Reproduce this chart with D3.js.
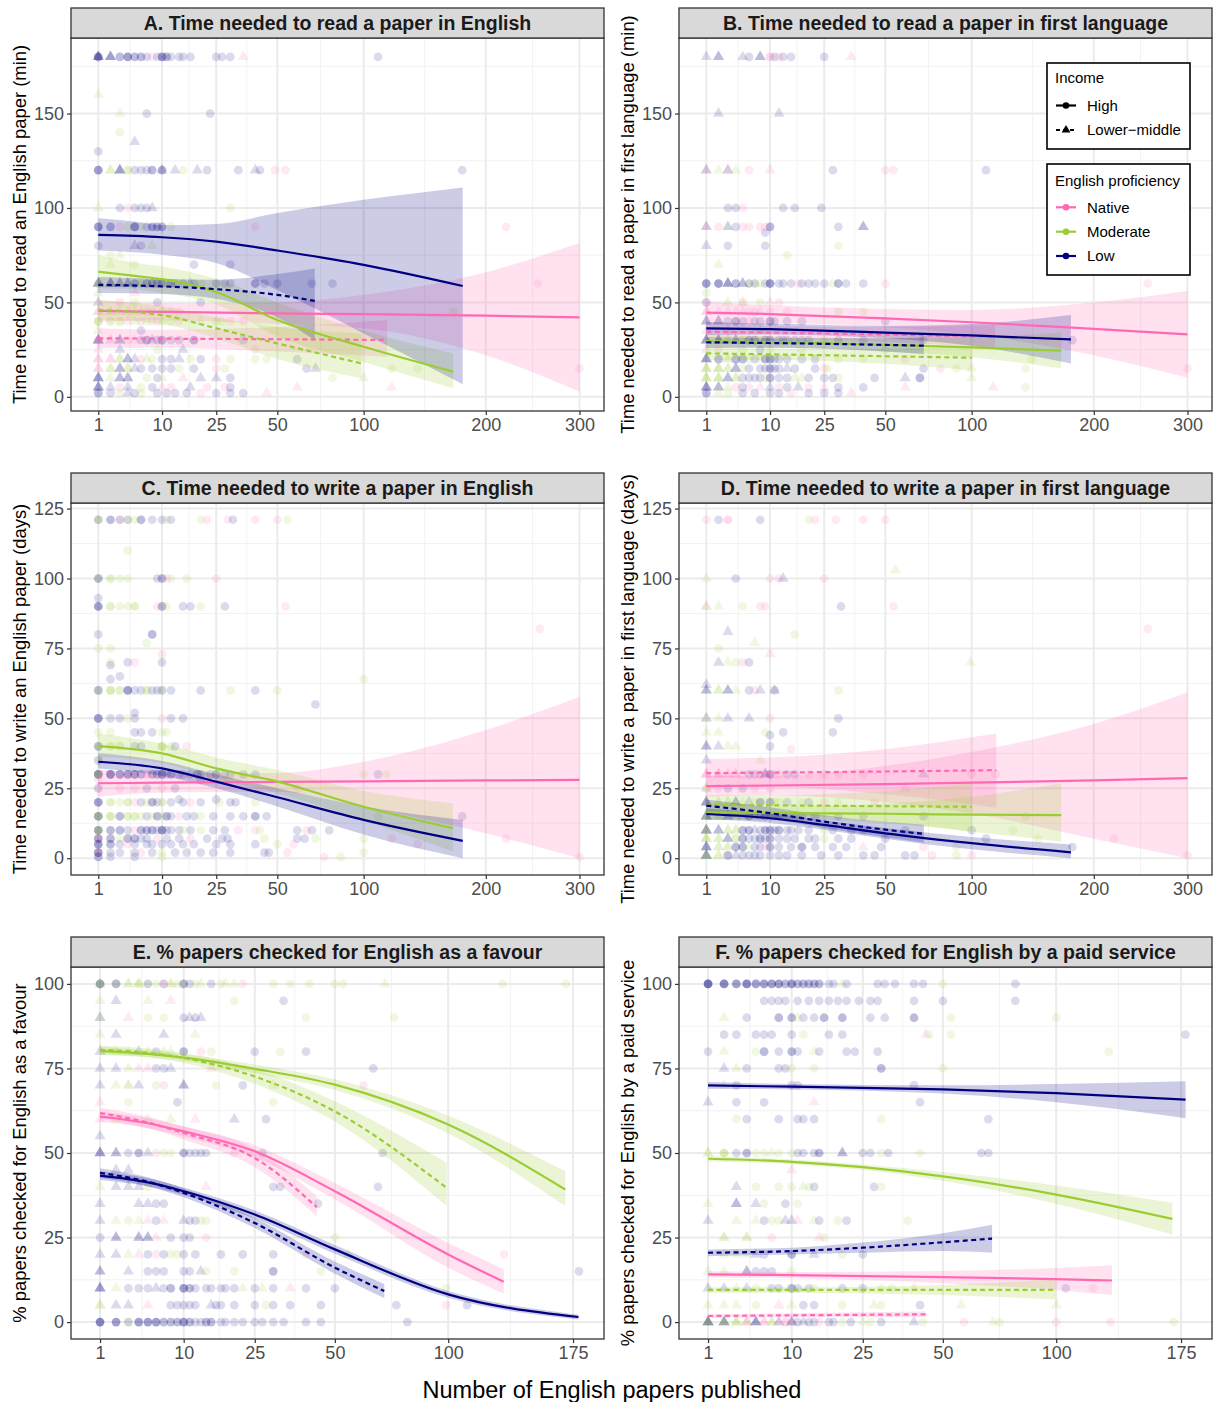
<!DOCTYPE html>
<html>
<head>
<meta charset="utf-8">
<script src="https://cdn.jsdelivr.net/npm/d3@7"></script>
<style>
  body { margin: 0; background: #fff; }
  svg text { font-family: "Liberation Sans", Arial, sans-serif; }
</style>
</head>
<body>
<svg id="chart" width="1213" height="1402"></svg>
<script>
// ---------- data ----------
const titles = [
  "A. Time needed to read a paper in English",
  "B. Time needed to read a paper in first language",
  "C. Time needed to write a paper in English",
  "D. Time needed to write a paper in first language",
  "E. % papers checked for English as a favour",
  "F. % papers checked for English by a paid service"
];
const yLabels = [
  "Time needed to read an English paper (min)",
  "Time needed to read a paper in first language (min)",
  "Time needed to write an English paper (days)",
  "Time needed to write a paper in first language (days)",
  "% papers checked for English as a favour",
  "% papers checked for English by a paid service"
];
const xLabel = "Number of English papers published";
const xTicksTop = [1, 10, 25, 50, 100, 200, 300];
const xTicksBottom = [1, 10, 25, 50, 100, 175];
const yTicksRead = [0, 50, 100, 150];
const yTicksWrite = [0, 25, 50, 75, 100, 125];
const yTicksPct = [0, 25, 50, 75, 100];
const profNames = {N: "Native", M: "Moderate", L: "Low"};
const incomeNames = {H: "High", L: "Lower\u2212middle"};

// points: [y, [[x, proficiency+income, count], ...]]
const pointsA = [
  [180, [[1,"LH",3],[1,"LL",3],[2,"LL",3],[3,"LH",2],[4,"LH",3],[5,"LH",2],[6,"LH",2],[7,"LH",1],[8,"NH",1],[9,"LH",1],[10,"LH",3],[11,"LH",2],[12,"LH",1],[14,"LH",1],[15,"LH",1],[17,"LH",1],[25,"LH",1],[27,"LH",1],[30,"LH",1],[35,"NL",1],[110,"LH",1]]],
  [160, [[1,"ML",1]]],
  [150, [[3,"ML",1],[7,"LH",1],[23,"LH",1]]],
  [140, [[3,"MH",1]]],
  [135, [[5,"LL",1]]],
  [130, [[1,"LH",1]]],
  [120, [[1,"LH",3],[2,"ML",2],[3,"LL",3],[4,"MH",2],[5,"LH",1],[6,"LH",1],[7,"LH",1],[8,"LH",2],[10,"LL",1],[10,"LH",2],[13,"LL",1],[15,"MH",1],[19,"LL",1],[22,"LH",1],[33,"LH",1],[40,"LL",1],[42,"LH",1],[49,"NH",1],[54,"NH",1],[178,"LH",1]]],
  [100, [[1,"ML",1],[3,"LH",1],[4,"NH",1],[5,"LH",1],[6,"LH",1],[7,"LH",1],[8,"LL",1],[30,"MH",1]]],
  [90, [[1,"LH",3],[2,"LH",2],[3,"NH",1],[4,"MH",1],[5,"LH",3],[6,"MH",1],[7,"LH",1],[8,"LH",2],[9,"LH",2],[10,"LH",2],[12,"MH",1],[40,"NH",1],[220,"NH",1]]],
  [80, [[1,"LH",1],[5,"LL",1],[6,"LH",1],[8,"ML",1]]],
  [75, [[2,"MH",1],[3,"ML",1]]],
  [70, [[2,"ML",1],[5,"MH",1],[18,"LH",1],[30,"LH",1]]],
  [60, [[1,"LL",3],[1,"MH",2],[2,"LL",3],[3,"LL",2],[4,"LL",2],[5,"LH",2],[6,"MH",2],[7,"LH",2],[8,"LH",2],[9,"LH",2],[10,"LH",2],[11,"MH",1],[12,"LH",2],[13,"LH",1],[15,"LH",1],[17,"LL",1],[18,"LH",1],[20,"MH",1],[25,"LH",1],[28,"LH",1],[30,"LH",1],[40,"LH",2],[44,"LH",1],[50,"LH",1],[68,"LH",1],[80,"LH",1],[253,"NH",1]]],
  [55, [[1,"ML",1],[5,"NL",1]]],
  [50, [[1,"LL",1],[3,"NH",1],[5,"MH",1],[9,"LH",1],[20,"LH",1]]],
  [45, [[1,"NL",2],[2,"ML",2],[3,"ML",1],[4,"NL",1],[5,"ML",1],[6,"NL",1],[7,"NH",1],[8,"NH",1],[10,"MH",1],[12,"NH",1],[14,"NH",1],[170,"MH",1]]],
  [40, [[1,"MH",3],[2,"MH",2],[3,"MH",2],[4,"NL",1],[5,"ML",1],[6,"NH",1],[7,"MH",1],[8,"NH",1],[9,"NH",1],[10,"MH",1],[12,"MH",1],[14,"NH",1],[20,"ML",1],[25,"MH",1],[27,"MH",1],[30,"NH",1],[35,"NH",1]]],
  [35, [[1,"ML",1],[6,"LH",1]]],
  [30, [[1,"LL",3],[1,"NH",2],[2,"NL",2],[3,"LL",2],[4,"NH",1],[5,"NL",1],[6,"LH",1],[7,"LH",2],[8,"LL",1],[9,"LH",1],[10,"LH",2],[12,"LH",1],[14,"LH",1],[18,"LH",2],[35,"LH",1]]],
  [25, [[1,"NL",1],[3,"LL",1],[9,"MH",1],[15,"LL",1],[40,"NH",1]]],
  [20, [[1,"NL",2],[2,"NL",2],[3,"ML",2],[4,"LL",2],[5,"LL",1],[6,"NH",1],[7,"ML",1],[8,"MH",1],[10,"LH",1],[12,"LH",1],[14,"LL",1],[17,"MH",1],[20,"LH",1],[25,"NH",1],[30,"MH",1],[40,"MH",1],[45,"MH",1],[60,"LH",1]]],
  [15, [[1,"NL",2],[2,"ML",2],[3,"LL",2],[4,"ML",2],[5,"LL",1],[6,"LH",1],[8,"LH",1],[10,"LH",1],[12,"LH",1],[14,"MH",1],[18,"LH",1],[25,"NH",1],[28,"MH",1],[65,"LH",1],[70,"LL",1],[120,"MH",1],[140,"MH",1],[300,"NH",1]]],
  [10, [[1,"LL",3],[2,"ML",1],[3,"LL",2],[4,"LL",2],[7,"MH",1],[9,"LH",1],[10,"ML",1],[15,"NL",1],[20,"LL",1],[25,"LL",1],[30,"LH",1],[80,"MH",1],[100,"ML",1]]],
  [5, [[1,"LL",3],[2,"LL",1],[3,"NH",1],[4,"LL",1],[6,"MH",1],[8,"LH",1],[10,"NL",1],[12,"NH",1],[17,"LL",1],[22,"NH",1],[28,"NH",1],[30,"LH",1],[60,"NL",1],[120,"NL",1]]],
  [2, [[1,"LH",2],[2,"LH",1],[3,"MH",1],[4,"LL",1],[5,"LH",1],[6,"MH",1],[9,"LH",1],[11,"LH",1],[13,"LH",1],[16,"LH",1],[20,"NH",1],[25,"LH",1],[30,"LH",1],[35,"LH",1],[45,"NL",1]]]
];

const pointsB = [
  [180, [[1,"LL",1],[2,"LL",2],[5,"LL",1],[6,"LH",1],[8,"LL",2],[10,"NH",2],[11,"LH",1],[12,"NH",1],[13,"LH",1],[15,"LH",1],[25,"LH",1],[35,"NL",1]]],
  [150, [[2,"LL",1],[12,"LL",1]]],
  [120, [[1,"NL",1],[1,"LL",1],[2,"ML",1],[3,"NL",1],[3,"LL",1],[4,"ML",1],[6,"NH",1],[10,"NL",1],[28,"LH",1],[50,"NH",1],[54,"NH",1],[110,"LH",1]]],
  [100, [[3,"LH",1],[4,"LH",1],[5,"NH",1],[13,"LH",1],[16,"LH",1],[24,"LH",1]]],
  [90, [[1,"NL",1],[1,"LL",1],[2,"NH",1],[3,"ML",1],[3,"LL",1],[4,"LH",1],[5,"NH",1],[6,"NH",1],[8,"NH",1],[9,"NH",1],[10,"LH",2],[30,"LH",1],[40,"LL",2]]],
  [87, [[9,"LH",1]]],
  [80, [[1,"LL",1],[3,"LH",1],[9,"LH",1],[30,"MH",1]]],
  [75, [[14,"MH",1]]],
  [70, [[2,"ML",1]]],
  [60, [[1,"LH",3],[2,"LH",3],[3,"LL",3],[4,"LH",2],[5,"LL",2],[6,"MH",1],[6,"LH",1],[7,"ML",1],[7,"LH",1],[8,"MH",1],[9,"LH",1],[10,"LH",3],[12,"LH",1],[13,"LH",1],[15,"LH",1],[17,"NH",1],[18,"LH",1],[20,"LH",1],[22,"LH",1],[25,"LH",1],[28,"MH",1],[30,"LH",2],[33,"LH",1],[40,"LH",1],[50,"NH",1],[255,"NH",1]]],
  [55, [[1,"MH",1]]],
  [50, [[1,"LH",1],[1,"NH",1],[3,"ML",1],[5,"NH",1],[5,"ML",1],[8,"MH",1],[10,"NL",1],[12,"NH",1]]],
  [45, [[1,"NL",2],[2,"NL",1],[3,"NL",1],[4,"NL",1],[5,"NL",1],[6,"NH",1],[7,"NH",1],[8,"NL",1],[10,"NH",1],[14,"NH",1],[30,"MH",1],[40,"MH",1]]],
  [40, [[1,"LL",2],[2,"LL",2],[3,"LH",1],[4,"LH",2],[5,"LH",1],[6,"NH",1],[7,"LH",1],[8,"LH",1],[10,"LH",2],[11,"LH",1],[14,"LH",1],[18,"LH",1],[50,"LH",1]]],
  [35, [[1,"NL",1],[3,"NH",1],[8,"ML",1]]],
  [30, [[1,"LL",3],[2,"LL",3],[3,"ML",2],[4,"LL",2],[5,"MH",2],[6,"LH",2],[7,"LH",2],[8,"MH",1],[9,"LH",2],[10,"LH",2],[12,"LH",1],[13,"LH",1],[14,"LH",1],[16,"LH",1],[18,"LH",1],[20,"LH",1],[25,"MH",1],[30,"LH",1],[40,"LH",1],[70,"LH",1],[180,"LH",1]]],
  [25, [[1,"NL",1],[2,"NH",1],[5,"MH",1],[8,"LH",1],[10,"MH",1],[18,"MH",1],[50,"MH",1]]],
  [20, [[1,"LL",3],[2,"LH",2],[3,"ML",2],[4,"LH",2],[5,"LH",2],[6,"MH",1],[7,"LH",1],[8,"ML",1],[9,"LH",2],[10,"LH",2],[11,"LH",1],[12,"LH",1],[14,"LH",1],[18,"LH",1],[22,"LH",1],[30,"MH",1],[40,"MH",1],[60,"NH",1],[145,"MH",1]]],
  [15, [[1,"ML",3],[2,"ML",3],[3,"ML",2],[4,"LL",2],[5,"MH",1],[6,"LH",1],[8,"LH",1],[9,"LH",1],[10,"LH",2],[11,"LH",1],[12,"LH",1],[14,"LL",1],[16,"LH",1],[22,"LH",1],[25,"NH",1],[26,"MH",1],[70,"LH",1],[80,"NH",1],[90,"MH",1],[100,"ML",1],[140,"MH",1],[300,"NH",1]]],
  [10, [[1,"ML",3],[2,"ML",3],[3,"LL",2],[4,"ML",2],[5,"LH",1],[6,"LH",1],[7,"LH",1],[8,"LH",1],[9,"MH",1],[10,"LH",2],[12,"LH",1],[14,"LH",1],[16,"ML",1],[18,"ML",1],[20,"LH",1],[25,"LH",1],[28,"LH",1],[30,"MH",1],[45,"LH",1],[60,"LL",1],[68,"LH",2],[100,"ML",1]]],
  [5, [[1,"LL",3],[2,"LL",2],[3,"ML",1],[4,"NH",1],[5,"LH",1],[6,"NH",1],[8,"NL",1],[10,"LL",1],[12,"NH",1],[14,"LH",1],[17,"LL",1],[20,"NH",1],[25,"NL",1],[30,"LH",1],[40,"LH",1],[60,"NL",1],[115,"NL",1],[140,"MH",1]]],
  [2, [[1,"LH",2],[2,"ML",1],[3,"MH",1],[5,"LH",1],[7,"LH",1],[10,"LH",1],[12,"LH",1],[15,"NH",1],[20,"LH",1],[25,"LH",1],[30,"LH",1],[35,"NL",1]]]
];

const pointsC = [
  [121, [[1,"MH",2],[1,"LH",1],[2,"LH",2],[3,"NH",1],[3,"LH",1],[4,"LH",1],[4,"MH",1],[5,"MH",1],[6,"LH",2],[8,"LH",1],[10,"LH",1],[11,"MH",1],[12,"LH",1],[20,"MH",1],[22,"NH",1],[29,"NH",1],[31,"LH",1],[40,"NH",1],[50,"NH",1],[55,"MH",1]]],
  [110, [[4,"MH",1]]],
  [100, [[1,"LH",2],[1,"MH",1],[2,"MH",2],[3,"MH",1],[4,"MH",1],[9,"LH",1],[10,"LH",2],[11,"NH",1],[12,"MH",1],[16,"MH",1],[25,"NH",1]]],
  [93, [[1,"LH",1]]],
  [90, [[1,"LH",3],[2,"MH",2],[3,"MH",1],[4,"MH",1],[5,"MH",2],[9,"NH",1],[10,"LH",2],[11,"MH",1],[15,"LH",1],[17,"LH",1],[20,"MH",1],[28,"LH",1],[54,"NH",1]]],
  [82, [[255,"NH",1]]],
  [80, [[1,"LH",1],[8,"LH",2]]],
  [77, [[7,"MH",1]]],
  [75, [[1,"MH",1],[2,"MH",1]]],
  [73, [[10,"NH",1]]],
  [70, [[2,"MH",1],[4,"LH",1],[5,"NH",1],[10,"LH",1]]],
  [69, [[2,"LH",1]]],
  [65, [[3,"LH",1]]],
  [64, [[2,"LH",1],[100,"MH",1]]],
  [60, [[1,"LH",2],[1,"MH",1],[2,"MH",3],[3,"MH",2],[4,"LH",3],[5,"LH",1],[6,"LH",1],[7,"MH",2],[8,"LH",1],[9,"LH",1],[10,"MH",1],[10,"LH",1],[12,"LH",1],[20,"LH",1],[30,"MH",1],[40,"LH",1],[50,"MH",1]]],
  [55, [[70,"LH",1]]],
  [52, [[5,"LH",1]]],
  [50, [[1,"LH",3],[2,"LH",1],[3,"LH",1],[4,"MH",1],[5,"LH",1],[10,"NH",1],[12,"LH",1],[15,"LH",1]]],
  [45, [[1,"MH",1],[2,"MH",1],[5,"LH",1],[6,"LH",1],[8,"LH",1],[10,"MH",1],[11,"MH",1]]],
  [40, [[1,"LH",2],[1,"MH",1],[2,"MH",2],[3,"MH",2],[5,"LH",1],[6,"LH",1],[10,"MH",3],[12,"MH",1],[13,"LH",1],[16,"NH",1]]],
  [35, [[1,"LH",1],[1,"MH",1]]],
  [30, [[1,"LH",4],[1,"MH",2],[2,"LH",4],[3,"LH",3],[4,"LH",3],[5,"LH",3],[6,"LH",2],[7,"NH",2],[8,"LH",2],[9,"LH",2],[10,"LH",3],[11,"LH",1],[12,"LH",2],[14,"LH",1],[15,"LH",1],[17,"LH",1],[19,"LH",2],[20,"LH",1],[23,"LH",1],[25,"LH",2],[28,"LH",1],[30,"LH",1],[35,"LH",1],[40,"LH",1],[100,"MH",1],[110,"LH",1],[116,"MH",1]]],
  [28, [[1,"NH",1],[20,"LH",1]]],
  [25, [[1,"LH",1],[1,"NH",1],[3,"NH",1],[5,"NH",1],[7,"LH",1],[10,"NH",1],[13,"LH",1],[60,"NH",1]]],
  [21, [[14,"LH",1],[25,"LH",1]]],
  [20, [[1,"LH",3],[2,"MH",2],[3,"MH",1],[4,"MH",2],[5,"NH",1],[6,"LH",1],[7,"MH",1],[8,"LH",2],[9,"LH",1],[10,"MH",2],[12,"LH",1],[15,"LH",1],[17,"NH",1],[20,"LH",1],[26,"MH",1],[30,"LH",1],[32,"LH",1],[40,"MH",1]]],
  [15, [[1,"MH",3],[1,"LH",2],[2,"MH",3],[3,"LH",2],[4,"MH",2],[5,"MH",2],[6,"MH",1],[7,"LH",1],[8,"MH",1],[9,"LH",2],[10,"MH",1],[11,"LH",2],[12,"LH",1],[14,"NH",1],[16,"LH",1],[18,"LH",1],[20,"MH",1],[24,"LH",1],[30,"LH",1],[35,"LH",1],[40,"LH",2],[45,"LH",1],[110,"MH",1],[178,"LH",1]]],
  [10, [[1,"MH",3],[1,"LH",2],[2,"LH",2],[3,"LH",2],[4,"LH",1],[5,"NH",1],[6,"LH",2],[7,"LH",2],[8,"LH",2],[9,"LH",1],[10,"LH",3],[11,"LH",1],[12,"LH",1],[14,"LH",1],[15,"MH",1],[17,"LH",1],[20,"MH",1],[24,"LH",1],[28,"LH",1],[33,"NH",1],[40,"NH",1],[42,"MH",1],[60,"LH",1],[65,"NH",1],[68,"LH",1],[78,"LH",1]]],
  [7, [[1,"NH",2],[1,"LH",2],[2,"LH",2],[3,"MH",1],[4,"LH",2],[5,"LH",2],[6,"LH",1],[7,"LH",1],[9,"NH",1],[11,"LH",1],[14,"LH",1],[17,"NH",1],[22,"LH",1],[27,"LH",1],[29,"LH",1],[44,"MH",1],[60,"LH",1],[64,"LH",1],[70,"MH",1],[100,"MH",1],[120,"NH",1],[220,"NH",1]]],
  [5, [[1,"LH",3],[2,"LH",2],[3,"LH",1],[4,"NH",1],[5,"LH",1],[7,"LH",1],[8,"LH",1],[10,"LH",1],[12,"LH",1],[15,"LH",1],[18,"LH",1],[25,"LH",1],[30,"LH",1],[40,"LH",1],[50,"MH",1],[58,"NH",1],[140,"NH",1]]],
  [2, [[1,"LH",3],[1,"NH",1],[2,"LH",1],[3,"LH",1],[5,"LH",1],[6,"NH",1],[8,"LH",1],[10,"MH",1],[13,"LH",1],[16,"LH",1],[20,"LH",1],[24,"LH",1],[30,"LH",1],[44,"LH",1],[46,"LH",1],[55,"NH",1],[100,"MH",1]]],
  [0.5, [[1,"LH",2],[2,"LH",1],[5,"LH",1],[10,"MH",1],[75,"NH",1],[85,"MH",1],[300,"NH",1]]]
];

const pointsD = [
  [121, [[1,"NH",1],[2,"LH",1],[3,"NH",2],[8,"LH",1],[20,"MH",1],[22,"NH",1],[29,"NH",1],[40,"NH",1],[50,"NH",1]]],
  [103, [[55,"ML",1]]],
  [100, [[1,"ML",1],[4,"LH",1],[10,"NH",1],[12,"NH",1],[13,"LL",1],[25,"NH",1]]],
  [90, [[1,"NL",1],[1,"ML",1],[2,"ML",1],[5,"MH",1],[8,"NH",1],[9,"NH",1],[31,"LH",1],[54,"NH",1]]],
  [82, [[255,"NH",1]]],
  [81, [[3,"LL",1]]],
  [80, [[16,"MH",1]]],
  [77, [[7,"ML",1]]],
  [75, [[2,"MH",1]]],
  [73, [[10,"NL",1]]],
  [70, [[2,"LL",1],[3,"ML",1],[4,"MH",1],[5,"NH",1],[6,"LH",1],[99,"ML",1]]],
  [62, [[1,"LL",1]]],
  [60, [[1,"LL",2],[2,"ML",2],[3,"LL",2],[4,"ML",1],[6,"LH",1],[7,"NH",1],[8,"LL",1],[11,"LL",1],[11,"LH",1],[30,"MH",1]]],
  [50, [[1,"LL",1],[1,"ML",1],[2,"ML",1],[3,"LL",1],[6,"LL",1],[10,"NH",1],[30,"LH",1]]],
  [45, [[1,"ML",1],[2,"ML",1],[9,"MH",1],[13,"LH",1],[28,"LH",1]]],
  [44, [[10,"LH",1]]],
  [40, [[1,"LL",2],[2,"LL",1],[3,"ML",1],[4,"ML",1],[10,"LH",1]]],
  [39, [[15,"NH",1]]],
  [35, [[1,"LL",1],[8,"ML",1]]],
  [30, [[1,"NL",3],[2,"NL",3],[3,"NL",2],[4,"NL",2],[5,"NH",1],[6,"LH",1],[7,"LH",1],[8,"NH",2],[9,"LL",2],[10,"LH",2],[11,"NH",1],[12,"NH",1],[14,"LH",1],[16,"LH",1],[20,"NH",1],[25,"NH",1],[30,"NH",1],[40,"NH",1],[70,"LL",1],[100,"NH",1],[117,"NH",1]]],
  [25, [[1,"ML",2],[1,"NH",1],[2,"NH",1],[3,"LH",1],[5,"LH",1],[7,"NH",1],[10,"NH",1],[60,"NL",1]]],
  [20, [[1,"LL",3],[2,"ML",2],[3,"ML",2],[4,"LL",2],[5,"ML",1],[6,"LL",1],[7,"MH",1],[8,"LH",2],[10,"LH",2],[11,"MH",1],[12,"MH",1],[14,"LH",1],[18,"MH",1],[20,"LH",1],[25,"NH",1],[30,"MH",1],[45,"NH",1]]],
  [15, [[1,"LL",3],[1,"ML",2],[2,"ML",2],[3,"LL",2],[4,"ML",2],[5,"LL",1],[6,"LH",2],[7,"LH",1],[8,"LH",1],[9,"LH",2],[10,"LH",1],[11,"LH",1],[12,"LH",2],[14,"LH",1],[16,"LH",1],[18,"LH",1],[22,"LH",1],[30,"LH",1],[40,"LH",1],[70,"LH",1],[140,"MH",1]]],
  [10, [[1,"LL",3],[1,"ML",2],[2,"LL",2],[3,"ML",2],[4,"ML",2],[5,"LH",2],[6,"LH",2],[7,"LL",1],[8,"LH",1],[9,"LH",2],[10,"LH",2],[11,"LH",1],[12,"LH",2],[14,"LH",1],[15,"LH",1],[17,"LH",1],[20,"LH",1],[25,"MH",1],[28,"LH",1],[35,"LH",1],[40,"LH",1],[60,"LH",1],[100,"LH",1],[130,"MH",1]]],
  [7, [[1,"ML",3],[2,"ML",2],[3,"LL",2],[4,"MH",2],[5,"LH",2],[6,"LH",1],[7,"LH",1],[8,"LH",2],[9,"LH",1],[10,"LH",2],[12,"LH",1],[14,"LH",1],[16,"LH",1],[20,"LH",1],[22,"LH",1],[25,"MH",1],[30,"LH",1],[35,"LH",1],[50,"LH",1],[110,"LH",1],[150,"MH",1],[220,"NH",1]]],
  [4, [[1,"LL",3],[2,"ML",2],[3,"ML",2],[4,"LH",2],[5,"LH",2],[6,"ML",1],[7,"LH",1],[8,"LH",1],[9,"NH",1],[10,"LH",2],[12,"LH",1],[15,"LH",1],[18,"LH",2],[22,"LH",1],[28,"LH",1],[33,"LH",1],[40,"NL",1],[48,"LH",1],[70,"NH",1],[90,"MH",1],[180,"LH",1]]],
  [1, [[1,"LL",3],[1,"ML",2],[2,"ML",2],[3,"LH",2],[4,"LL",1],[5,"LH",1],[6,"LH",1],[7,"LH",1],[8,"LH",1],[10,"LH",1],[12,"LH",1],[14,"LH",1],[18,"LH",1],[24,"LH",1],[30,"LH",1],[40,"LH",1],[45,"LH",1],[60,"LH",1],[65,"LH",1],[75,"NH",1],[90,"MH",1],[100,"NH",1],[300,"NH",1]]]
];

const pointsE = [
  [100, [[1,"LH",3],[1,"ML",2],[2,"LH",2],[2,"MH",1],[3,"ML",2],[4,"ML",2],[4,"MH",1],[5,"MH",1],[5,"LH",1],[6,"MH",1],[7,"LH",1],[7,"NH",1],[8,"ML",2],[9,"MH",1],[10,"LH",2],[10,"MH",1],[11,"LH",1],[12,"MH",1],[13,"ML",1],[15,"LH",1],[17,"MH",1],[18,"ML",1],[20,"ML",1],[22,"NH",1],[30,"MH",1],[35,"MH",1],[41,"MH",1],[50,"MH",1],[53,"MH",1],[70,"ML",1],[130,"MH",1],[170,"MH",1]]],
  [95, [[1,"ML",1],[2,"LL",1],[5,"ML",1],[8,"NL",1],[20,"MH",1],[33,"LH",1]]],
  [90, [[1,"ML",1],[1,"LL",1],[3,"NL",1],[5,"MH",1],[7,"MH",1],[10,"LH",1],[11,"LL",1],[12,"LH",1],[13,"LL",1],[40,"MH",1],[74,"MH",1]]],
  [85, [[1,"ML",1],[2,"LL",1],[7,"LL",1],[12,"ML",1]]],
  [80, [[1,"LL",1],[2,"ML",1],[3,"ML",1],[4,"LL",1],[5,"ML",1],[6,"LH",1],[7,"ML",1],[8,"ML",1],[10,"LH",2],[13,"NH",1],[15,"MH",1],[25,"LH",1],[32,"MH",1],[40,"LH",1]]],
  [75, [[1,"LL",1],[2,"LL",1],[3,"ML",1],[4,"NL",1],[5,"NL",1],[6,"LH",1],[7,"LH",1],[8,"LL",1],[15,"NL",1],[65,"LH",1]]],
  [70, [[1,"LL",1],[2,"ML",1],[3,"ML",2],[4,"LL",1],[6,"MH",1],[7,"NH",1],[10,"LL",2],[16,"MH",1],[22,"LH",1],[30,"ML",1],[61,"NH",1]]],
  [65, [[1,"NL",1],[3,"MH",1],[9,"LH",1],[30,"MH",1]]],
  [60, [[1,"NL",1],[2,"ML",1],[5,"ML",1],[8,"ML",1],[12,"NL",1],[20,"LL",1],[28,"LH",1]]],
  [55, [[1,"LL",1]]],
  [50, [[1,"LL",3],[2,"LL",2],[3,"LH",1],[4,"LH",2],[5,"LL",1],[6,"NH",1],[7,"MH",1],[8,"MH",1],[10,"LH",2],[11,"LH",1],[12,"LH",1],[13,"LH",1],[14,"LH",1],[20,"NH",1],[27,"LH",1],[69,"LH",1]]],
  [45, [[2,"LL",1],[3,"LL",1]]],
  [40, [[1,"ML",1],[2,"LL",1],[3,"LL",1],[4,"LL",1],[5,"MH",1],[14,"NL",1],[30,"LH",1],[32,"LH",1],[67,"LH",1]]],
  [35, [[1,"LL",1],[4,"LL",1],[5,"LL",1],[6,"LH",1],[7,"LH",1],[44,"LH",1]]],
  [30, [[1,"LL",1],[2,"ML",1],[3,"MH",1],[4,"ML",1],[5,"NL",1],[6,"LH",1],[7,"NL",1],[10,"LL",1],[11,"LH",1],[12,"LH",1],[13,"MH",1],[14,"MH",1]]],
  [25, [[1,"LH",1],[2,"LL",2],[4,"LL",2],[5,"LL",2],[6,"NL",1],[8,"LH",1],[10,"LH",1],[11,"LH",1],[14,"NH",1],[50,"MH",1]]],
  [20, [[1,"LL",1],[2,"LL",1],[3,"ML",1],[4,"NL",1],[5,"LH",1],[6,"NH",1],[7,"LH",1],[8,"MH",1],[9,"MH",1],[10,"LH",1],[12,"LH",1],[17,"LH",1],[22,"LH",1],[30,"LH",1],[40,"NH",1],[55,"ML",1],[131,"NH",1]]],
  [15, [[1,"LL",2],[3,"LL",1],[5,"LH",1],[6,"LH",1],[7,"LH",1],[10,"LH",1],[11,"LH",1],[13,"LL",1],[14,"MH",1],[20,"MH",1],[30,"LH",2],[45,"MH",1],[179,"LH",1]]],
  [10, [[1,"LL",3],[2,"ML",1],[3,"LH",1],[4,"LH",1],[5,"LH",1],[6,"LL",1],[7,"LH",1],[8,"LH",2],[10,"LH",3],[11,"LH",2],[12,"LH",1],[14,"LH",1],[15,"LH",1],[17,"LH",1],[18,"LH",1],[20,"LH",1],[22,"ML",1],[25,"LH",1],[27,"ML",1],[30,"LH",1],[35,"NL",1],[40,"LH",1],[50,"LH",1],[99,"MH",1]]],
  [5, [[1,"ML",2],[2,"LL",1],[3,"LL",1],[5,"NL",1],[8,"LH",1],[9,"LH",1],[10,"LH",1],[11,"LH",1],[12,"LH",1],[15,"LL",1],[16,"LH",1],[17,"LH",1],[20,"LH",1],[25,"LH",1],[28,"MH",1],[30,"LH",1],[35,"LH",1],[45,"LH",1],[75,"LH",1],[99,"NH",1],[110,"LH",1]]],
  [0, [[1,"LH",4],[2,"LH",3],[3,"MH",1],[3,"LH",1],[4,"LH",3],[5,"LH",3],[6,"LH",3],[7,"LH",2],[8,"LH",2],[9,"LH",2],[10,"LH",3],[11,"LH",2],[12,"LH",1],[13,"LH",1],[14,"LH",2],[15,"LH",2],[17,"LH",1],[18,"LH",1],[20,"LH",1],[22,"LH",1],[25,"LH",1],[27,"LH",1],[30,"LH",1],[33,"LH",1],[40,"LH",1],[45,"LH",1],[80,"LH",1]]]
];

const pointsF = [
  [100, [[1,"LH",5],[2,"LH",4],[3,"LH",3],[4,"LH",4],[5,"LH",3],[6,"LH",3],[7,"LH",3],[8,"LH",3],[9,"LH",2],[10,"LH",3],[11,"LH",2],[12,"LH",2],[13,"LH",2],[14,"LH",2],[15,"LH",2],[17,"LH",1],[18,"LH",1],[20,"ML",1],[21,"LH",1],[29,"LH",1],[31,"LH",1],[34,"LH",1],[40,"LH",1],[43,"LH",1],[50,"MH",1],[80,"LH",1]]],
  [95, [[6,"LH",1],[7,"LH",1],[8,"LH",1],[9,"LH",1],[11,"LH",1],[13,"LH",1],[15,"LH",1],[17,"LH",1],[19,"LH",1],[21,"LH",1],[24,"LH",1],[27,"LH",1],[29,"LH",1],[40,"LH",1],[50,"LH",1],[80,"LH",1]]],
  [90, [[2,"ML",1],[4,"LH",1],[8,"LH",2],[10,"LH",2],[11,"MH",1],[12,"LH",1],[14,"LH",1],[16,"LH",2],[20,"LH",2],[27,"LH",1],[31,"LH",1],[40,"LH",2],[53,"MH",1],[100,"MH",1]]],
  [85, [[2,"LH",1],[3,"LH",1],[5,"LH",1],[6,"LH",1],[7,"LH",1],[10,"LH",1],[12,"MH",1],[17,"LH",1],[20,"LH",1],[44,"NL",1],[45,"MH",1],[53,"MH",1],[178,"LH",1]]],
  [80, [[1,"LH",1],[2,"ML",1],[5,"MH",1],[6,"LH",2],[8,"LH",1],[10,"LH",2],[11,"LH",1],[14,"ML",1],[15,"LH",1],[21,"LH",1],[23,"LH",1],[29,"LH",1],[129,"MH",1]]],
  [75, [[2,"LL",1],[3,"ML",1],[4,"LH",1],[8,"LH",1],[9,"LH",1],[10,"MH",1],[14,"MH",1],[30,"LH",2],[50,"MH",1]]],
  [70, [[2,"ML",1],[3,"LH",1],[10,"LH",1],[11,"LH",1],[40,"LH",1]]],
  [65, [[1,"LL",1],[3,"LH",1],[6,"LH",1],[14,"NL",1],[42,"LH",1]]],
  [60, [[3,"MH",1],[4,"LH",1],[8,"LH",1],[11,"LH",1],[12,"LH",1],[14,"LH",1],[30,"MH",1],[68,"LH",1]]],
  [50, [[1,"ML",2],[2,"MH",3],[3,"LH",1],[4,"LH",2],[5,"MH",1],[6,"MH",1],[7,"ML",1],[8,"MH",1],[10,"MH",1],[11,"LH",1],[12,"LH",1],[14,"LH",1],[15,"LH",2],[20,"LL",2],[25,"LH",1],[27,"LH",1],[30,"MH",1],[32,"LH",1],[42,"MH",1],[65,"LH",1],[68,"LH",1]]],
  [45, [[10,"NL",1]]],
  [40, [[3,"LL",1],[5,"MH",1],[8,"MH",1],[10,"MH",1],[12,"ML",1],[13,"MH",1],[14,"LH",1],[28,"LH",1],[30,"MH",1]]],
  [35, [[1,"ML",1],[3,"LL",2],[5,"LL",1],[6,"MH",1],[9,"LH",1],[11,"MH",1]]],
  [30, [[1,"LL",1],[3,"ML",1],[5,"ML",1],[6,"LH",1],[7,"MH",1],[8,"MH",1],[9,"LL",1],[10,"LL",1],[11,"NL",1],[14,"ML",1],[15,"LH",1],[19,"MH",1],[21,"LH",1],[38,"MH",1]]],
  [25, [[2,"ML",2],[4,"ML",2],[7,"NH",1],[15,"NL",1],[16,"MH",1]]],
  [20, [[2,"ML",1],[3,"ML",1],[4,"ML",1],[5,"LL",1],[6,"LH",1],[10,"LH",2],[14,"LL",1],[20,"MH",1],[25,"LH",1]]],
  [15, [[1,"ML",1],[2,"ML",1],[4,"LL",2],[5,"LH",1],[6,"LH",1],[7,"LH",1],[10,"MH",1]]],
  [10, [[1,"LL",1],[2,"LL",1],[3,"ML",1],[4,"LL",1],[5,"MH",1],[7,"LH",1],[8,"LH",1],[10,"LH",2],[11,"LH",1],[13,"LH",1],[14,"MH",1],[20,"LH",1],[25,"LH",1],[30,"MH",1],[33,"MH",1],[40,"NL",1],[105,"LH",1],[120,"NH",1]]],
  [5, [[1,"ML",1],[2,"ML",1],[3,"ML",1],[5,"MH",1],[8,"NL",1],[10,"ML",1],[12,"LH",1],[14,"LH",1],[20,"MH",1],[28,"ML",1],[30,"MH",1],[42,"LH",1],[57,"ML",1],[100,"ML",1]]],
  [0, [[1,"LL",4],[1,"ML",2],[2,"LL",3],[2,"ML",2],[3,"ML",3],[4,"NL",2],[4,"ML",1],[5,"LL",3],[6,"NL",2],[7,"ML",2],[8,"NL",1],[8,"LL",1],[9,"NH",2],[10,"LL",2],[10,"NH",1],[11,"LH",1],[12,"LL",1],[13,"LH",1],[14,"LH",1],[15,"NH",1],[17,"LH",1],[18,"LH",1],[20,"MH",1],[22,"LH",1],[25,"ML",1],[27,"MH",1],[30,"LH",1],[40,"LL",1],[43,"MH",1],[58,"NH",1],[70,"ML",1],[73,"MH",1],[100,"NH",1],[130,"NH",1],[170,"MH",1]]]
];

// fitted curves: [proficiency, income, [[x, fit, lower, upper], ...]]
const fitsA = [
  ["N","H",[[1,45.5,39.8,51.3],[10,45,40.5,49.5],[50,44.2,38.5,50],[100,43.8,36.3,54],[200,43,22,66],[300,42.1,2.7,81.4]]],
  ["N","L",[[1,31,25.7,36.3],[10,30.8,26,35.5],[50,30.5,24,37],[116.5,30.1,21.2,40.7]]],
  ["M","H",[[1,66.3,57.5,75.2],[5,64,57,71],[10,62.3,55,69],[25,55.5,49,62.5],[50,40.7,32,50],[100,26.5,18.5,35],[170,13.3,4.5,23]]],
  ["M","L",[[1,46,41,51],[10,43.3,38.5,48],[25,36.3,31,42],[50,28.3,20,37],[98.6,17.7,9.8,33.6]]],
  ["L","H",[[1,85.8,77.5,94.6],[5,85.2,76.5,92.8],[10,84.5,75.2,90.8],[25,82.2,70.8,91.5],[50,77.5,56.6,97.3],[100,69.9,33.6,104.3],[178.5,58.7,6.7,110.9]]],
  ["L","L",[[1,59.3,55,63.5],[10,58.5,54.5,62.5],[25,57,52,62],[50,54,42,65],[69.6,50.8,30,68]]]
];
const fitsB = [
  ["N","H",[[1,44.6,38,50.4],[10,43.8,39,48.5],[50,41.5,37,46.5],[100,39.5,33,46],[200,36,22,50],[300,33.1,10.1,56.1]]],
  ["N","L",[[1,34.5,31,38],[10,34,31,37.5],[50,33,29,37],[116.5,31.8,26,38]]],
  ["M","H",[[1,29.5,26,33],[10,29,26,32],[50,27.5,24,31],[100,26.2,21,31.5],[170,24.4,15,34]]],
  ["M","L",[[1,23,19.5,26.5],[10,22.5,19.5,25.5],[50,21.5,17.5,25.5],[100.2,20.7,14,27]]],
  ["L","H",[[1,36.3,32.7,39.8],[10,35.8,33,38.8],[50,34,31,37.5],[100,32.5,27,38.5],[178.7,30.4,17.7,43.3]]],
  ["L","L",[[1,28.9,26,31.5],[10,28.5,26,31],[50,27.5,24,31],[70.2,27.1,22.5,31.5]]]
];
const fitsC = [
  ["N","H",[[1,26.8,22,31.5],[10,27,23.5,30.5],[50,27.3,23.8,30.5],[100,27.5,18.4,34.5],[200,27.8,8.9,45.8],[300,28,0,57.7]]],
  ["M","H",[[1,40.1,36.3,44.6],[10,37.5,34,41],[25,32.1,28.5,36],[50,27.4,23.2,31.5],[100,18.4,13.5,24],[169.8,10.7,2.4,19.6]]],
  ["L","H",[[1,34.5,32.1,37.5],[10,32.1,29.5,34.8],[25,27.4,25,30],[50,21.8,18.5,25],[100,13.7,8.5,18.5],[178.5,6.2,0,13.7]]]
];
const fitsD = [
  ["N","H",[[1,25.8,22,29.5],[10,26,22.5,29.5],[50,26.5,20,33],[100,27,16,38],[200,27.8,7,48],[300,28.6,0,59.3]]],
  ["N","L",[[1,30.4,25.5,35.5],[10,30.6,25.5,36],[50,31,23,39],[117.4,31.5,18,44.6]]],
  ["M","H",[[1,16.4,13.7,19.6],[10,16.2,14,18.5],[50,15.9,12.5,19.5],[100,15.6,9.5,22],[170,15.4,5.9,26.8]]],
  ["M","L",[[1,19,15.5,22.5],[10,18.9,15.5,22.5],[50,18.6,13,24],[100.2,18.4,9.5,27]]],
  ["L","H",[[1,15.8,13.8,17.8],[10,14.3,12.6,16],[25,11.9,10.2,13.6],[50,8.9,7,10.8],[100,5.4,3.2,7.6],[178.7,2.1,0,4.9]]],
  ["L","L",[[1,18.8,16.5,21],[10,16.1,14,18.2],[25,13.1,10.8,15.4],[50,10.2,7.5,13],[70.2,8.7,5.5,12]]]
];
const fitsE = [
  ["N","H",[[1,60.8,59.3,62.3],[5,58.8,57.3,60.3],[10,56.4,54.9,57.9],[25,50.5,48.7,52.3],[50,38.7,36.3,41.1],[100,20,16.1,23.4],[130.8,11.9,8.4,15.6]]],
  ["N","L",[[1,61.8,60.2,63.4],[5,59,57.3,60.7],[10,55.9,54,57.8],[25,48.5,45.8,51.2],[43.6,34,31.3,37.2]]],
  ["M","H",[[1,80.2,79,81.4],[5,79.3,78.3,80.3],[10,78.2,77.2,79.2],[25,74.9,73.6,76.2],[50,70.2,68.6,71.8],[100,58.4,55.8,61],[169.7,39.2,34.3,44.6]]],
  ["M","L",[[1,80.5,79.2,81.8],[5,79.6,78.3,80.9],[10,78.1,76.6,79.6],[25,72.6,70.4,74.8],[50,62.3,59.3,65.3],[99.2,39.7,34.3,47.1]]],
  ["L","H",[[1,43.3,42,44.6],[5,41.3,40.1,42.5],[10,38.7,37.6,39.8],[25,31.8,30.6,33],[50,21.5,20.2,22.8],[100,8.2,7.2,9.2],[178.7,1.5,0.8,2.2]]],
  ["L","L",[[1,44.1,42.7,45.5],[5,41.5,40.2,42.8],[10,38.2,36.9,39.5],[25,29.3,27.8,30.8],[50,16.1,14.3,17.9],[69.7,9.2,7.1,11.3]]]
];
const fitsF = [
  ["N","H",[[1,14.1,13.2,15],[10,13.9,13,14.8],[50,13.3,11.5,15.1],[100,12.7,9.5,16],[130.9,12.3,8,16.8]]],
  ["N","L",[[1,1.8,1.3,2.3],[10,2,1.4,2.6],[43.9,2.3,1.5,3.1]]],
  ["M","H",[[1,48.3,47.5,49.1],[10,47.4,46.7,48.1],[25,45.8,45,46.6],[50,43.1,41.8,44.4],[100,37.7,35,40.4],[169.1,30.5,25.9,35.3]]],
  ["M","L",[[1,9.5,8.7,10.3],[10,9.5,8.7,10.3],[50,9.5,8,11],[99.6,9.5,6.7,12.6]]],
  ["L","H",[[1,70,69,71],[10,69.6,68.8,70.4],[50,68.8,67.6,70],[100,67.7,65,70.4],[178.1,65.8,60.3,71.2]]],
  ["L","L",[[1,20.5,19.5,21.5],[10,21,20,22],[25,22,20.5,23.5],[50,23.6,21,26.3],[69.6,24.7,20.5,28.8]]]
];

// ---------- layout / style ----------
const colour = {N: "#FF69B4", M: "#9ACD32", L: "#000080"};
const font = '"Liberation Sans", Arial, sans-serif';
const colL = {left: 71, right: 604, labX: 20};
const colR = {left: 679, right: 1212, labX: 628};
const rowTop = {top: 38, bottom: 411, ticks: yTicksRead, ydom: [-7.5, 190], xticks: xTicksTop, xdom: [0.0055, 329.5]};
const rowMid = {top: 503, bottom: 875, ticks: yTicksWrite, ydom: [-6, 127], xticks: xTicksTop, xdom: [0.0055, 329.5]};
const rowBot = {top: 967, bottom: 1339, ticks: yTicksPct, ydom: [-5, 105], xticks: xTicksBottom, xdom: [0.062, 196.8]};

const panels = [
  {col: colL, row: rowTop, pts: pointsA, fits: fitsA},
  {col: colR, row: rowTop, pts: pointsB, fits: fitsB},
  {col: colL, row: rowMid, pts: pointsC, fits: fitsC},
  {col: colR, row: rowMid, pts: pointsD, fits: fitsD},
  {col: colL, row: rowBot, pts: pointsE, fits: fitsE},
  {col: colR, row: rowBot, pts: pointsF, fits: fitsF}
];

const svg = d3.select("#chart");
svg.append("rect").attr("width", 1213).attr("height", 1402).attr("fill", "#fff");
const defs = svg.append("defs");
const circ = d3.symbol().type(d3.symbolCircle).size(60)();
const tri = d3.symbol().type(d3.symbolTriangle).size(54)();

panels.forEach((p, i) => {
  const {left, right, labX} = p.col;
  const {top, bottom} = p.row;
  const x = d3.scaleSqrt().domain(p.row.xdom).range([left, right]);
  const y = d3.scaleLinear().domain(p.row.ydom).range([bottom, top]);
  const g = svg.append("g");

  defs.append("clipPath").attr("id", "clip" + i)
    .append("rect").attr("x", left).attr("y", top).attr("width", right - left).attr("height", bottom - top);

  // grid (minor lines halfway between majors, in sqrt space for x)
  const xt = p.row.xticks, yt = p.row.ticks;
  const xMinor = d3.pairs(xt).map(([a, b]) => ((Math.sqrt(a) + Math.sqrt(b)) / 2) ** 2);
  const ystep = yt[1] - yt[0];
  const yMinor = d3.range(yt[0] - ystep / 2, yt[yt.length - 1] + ystep, ystep)
    .filter(v => v > p.row.ydom[0] && v < p.row.ydom[1]);
  const grid = g.append("g");
  grid.selectAll(".xm").data(xMinor).join("line")
    .attr("x1", d => x(d)).attr("x2", d => x(d)).attr("y1", top).attr("y2", bottom)
    .attr("stroke", "#F2F2F2").attr("stroke-width", 1);
  grid.selectAll(".ym").data(yMinor).join("line")
    .attr("y1", d => y(d)).attr("y2", d => y(d)).attr("x1", left).attr("x2", right)
    .attr("stroke", "#F2F2F2").attr("stroke-width", 1);
  grid.selectAll(".xM").data(xt).join("line")
    .attr("x1", d => x(d)).attr("x2", d => x(d)).attr("y1", top).attr("y2", bottom)
    .attr("stroke", "#EBEBEB").attr("stroke-width", 2);
  grid.selectAll(".yM").data(yt).join("line")
    .attr("y1", d => y(d)).attr("y2", d => y(d)).attr("x1", left).attr("x2", right)
    .attr("stroke", "#EBEBEB").attr("stroke-width", 2);

  const body = g.append("g").attr("clip-path", `url(#clip${i})`);

  // points
  const pts = p.pts.flatMap(([yv, list]) =>
    list.flatMap(([xv, code, n]) => d3.range(n).map(() => ({x: xv, y: yv, prof: code[0], inc: code[1]}))));
  body.append("g").selectAll("path").data(pts).join("path")
    .attr("d", d => d.inc === "H" ? circ : tri)
    .attr("transform", d => `translate(${x(d.x)},${y(d.y)})`)
    .attr("fill", d => colour[d.prof]).attr("fill-opacity", 0.14);

  // ribbons then lines
  const area = d3.area().curve(d3.curveMonotoneX)
    .x(d => x(d[0])).y0(d => y(d[2])).y1(d => y(d[3]));
  const line = d3.line().curve(d3.curveMonotoneX)
    .x(d => x(d[0])).y(d => y(d[1]));
  body.append("g").selectAll("path").data(p.fits).join("path")
    .attr("d", d => area(d[2]))
    .attr("fill", d => colour[d[0]]).attr("fill-opacity", 0.2);
  body.append("g").selectAll("path").data(p.fits).join("path")
    .attr("d", d => line(d[2]))
    .attr("fill", "none").attr("stroke", d => colour[d[0]]).attr("stroke-width", 2.2)
    .attr("stroke-dasharray", d => d[1] === "L" ? "5,3.5" : null);

  // border
  g.append("rect").attr("x", left).attr("y", top).attr("width", right - left).attr("height", bottom - top)
    .attr("fill", "none").attr("stroke", "#333").attr("stroke-width", 1.3);

  // strip
  g.append("rect").attr("x", left).attr("y", top - 30).attr("width", right - left).attr("height", 30)
    .attr("fill", "#D9D9D9").attr("stroke", "#333").attr("stroke-width", 1.3);
  g.append("text").attr("x", (left + right) / 2).attr("y", top - 15).attr("dy", "0.35em")
    .attr("text-anchor", "middle").attr("font-weight", "bold").attr("font-size", 19.5)
    .attr("fill", "#1A1A1A").text(titles[i]);

  // axes
  const ax = g.append("g").attr("transform", `translate(0,${bottom})`)
    .call(d3.axisBottom(x).tickValues(xt).tickFormat(d3.format("d")).tickSize(4).tickPadding(3));
  const ay = g.append("g").attr("transform", `translate(${left},0)`)
    .call(d3.axisLeft(y).tickValues(yt).tickSize(4).tickPadding(3));
  [ax, ay].forEach(a => {
    a.select(".domain").remove();
    a.selectAll(".tick line").attr("stroke", "#333").attr("stroke-width", 1.2);
    a.selectAll(".tick text").attr("fill", "#4D4D4D").attr("font-size", 18).attr("font-family", font);
  });

  // y label
  g.append("text").attr("transform", `translate(${labX},${(top + bottom) / 2}) rotate(-90)`)
    .attr("text-anchor", "middle").attr("dy", "0.35em").attr("font-size", 18.4)
    .attr("fill", "#000").text(yLabels[i]);
});

// x label
svg.append("text").attr("x", 612).attr("y", 1390).attr("dy", "0.35em")
  .attr("text-anchor", "middle").attr("font-size", 23.5).attr("fill", "#000").text(xLabel);

// legend (inside panel B)
const lg = svg.append("g");
lg.append("rect").attr("x", 1047).attr("y", 63).attr("width", 143).attr("height", 86)
  .attr("fill", "#fff").attr("stroke", "#000").attr("stroke-width", 1.6);
lg.append("text").attr("x", 1055).attr("y", 78).attr("dy", "0.35em").attr("font-size", 15).text("Income");
const incKeys = [["H", 105.5], ["L", 130]];
incKeys.forEach(([k, yy]) => {
  lg.append("line").attr("x1", 1056).attr("x2", 1076).attr("y1", yy).attr("y2", yy)
    .attr("stroke", "#000").attr("stroke-width", 2.2).attr("stroke-dasharray", k === "L" ? "4,3" : null);
  lg.append("path").attr("d", k === "H" ? d3.symbol().type(d3.symbolCircle).size(34)() : d3.symbol().type(d3.symbolTriangle).size(34)())
    .attr("transform", `translate(1066,${yy})`).attr("fill", "#000");
  lg.append("text").attr("x", 1087).attr("y", yy).attr("dy", "0.35em").attr("font-size", 15).text(incomeNames[k]);
});
lg.append("rect").attr("x", 1047).attr("y", 164).attr("width", 143).attr("height", 111)
  .attr("fill", "#fff").attr("stroke", "#000").attr("stroke-width", 1.6);
lg.append("text").attr("x", 1055).attr("y", 181).attr("dy", "0.35em").attr("font-size", 15).text("English proficiency");
const profKeys = [["N", 207.3], ["M", 231.7], ["L", 256]];
profKeys.forEach(([k, yy]) => {
  lg.append("line").attr("x1", 1056).attr("x2", 1076).attr("y1", yy).attr("y2", yy)
    .attr("stroke", colour[k]).attr("stroke-width", 2.2);
  lg.append("path").attr("d", d3.symbol().type(d3.symbolCircle).size(34)())
    .attr("transform", `translate(1066,${yy})`).attr("fill", colour[k]);
  lg.append("text").attr("x", 1087).attr("y", yy).attr("dy", "0.35em").attr("font-size", 15).text(profNames[k]);
});
</script>
</body>
</html>
